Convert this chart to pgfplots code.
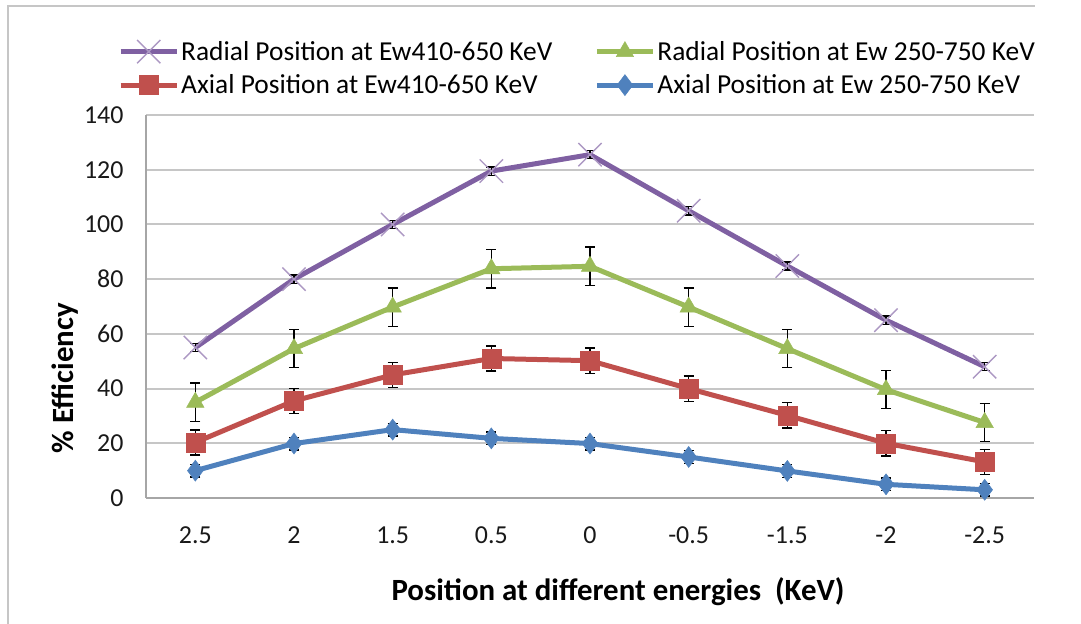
\documentclass[border=0pt]{standalone}
\usepackage{fontspec}
\setmainfont{Carlito}
\usepackage{pgfplots}
\pgfplotsset{compat=1.18}
\definecolor{cpurple}{HTML}{7F60A2}
\definecolor{cgreen}{HTML}{9BBB59}
\definecolor{cred}{HTML}{C0504D}
\definecolor{cblue}{HTML}{4F81BD}
\begin{document}
\begin{tikzpicture}[x=1bp,y=1bp]
\path[use as bounding box] (0,0) rectangle (1081,-624);
\draw[gray!45, line width=2bp] (8,-624) -- (8,-6) -- (1035,-6);
\begin{axis}[
  at={(146bp,-498bp)}, anchor=south west,
  width=888bp, height=383bp, scale only axis,
  xmin=-0.5, xmax=8.5, ymin=0, ymax=140,
  xtick={0,1,2,3,4,5,6,7,8},
  xticklabels={2.5,2,1.5,0.5,0,-0.5,-1.5,-2,-2.5},
  ytick={0,20,40,60,80,100,120,140},
  axis lines=left,
  axis line style={-, draw=gray!70, line width=1.5bp},
  ymajorgrids, grid style={gray!45, line width=2bp},
  major tick length=0pt,
  /pgf/number format/assume math mode=true,
  tick label style={font=\fontsize{26}{26}\selectfont, text=black!90},
  yticklabel style={xshift=-19bp},
  xticklabel style={yshift=-25bp},
  xlabel={Position at different energies\ \ (KeV)},
  ylabel={\% Efficiency},
  xlabel style={font=\bfseries\fontsize{31}{31}\selectfont, at={(axis description cs:0.5315,-0.245)}, anchor=center},
  ylabel style={font=\bfseries\fontsize{31}{31}\selectfont, at={(axis description cs:-0.0912,0.313)}, anchor=center},
  legend columns=2,
  legend cell align=left,
  legend style={draw=none, fill=none, at={(axis description cs:-0.0315,1.198)}, anchor=north west,
    font=\fontsize{27.5}{27.5}\selectfont, inner sep=0pt, row sep=9bp,
    /tikz/every even column/.append style={column sep=40bp}},
  legend image code/.code={\draw[mark repeat=2,mark phase=2] plot coordinates {(0bp,0bp) (28bp,0bp) (56bp,0bp)};},
  error bars/error bar style={black, line width=1.3bp, solid},
  error bars/error mark options={black, rotate=90, mark size=5bp, line width=1.3bp, solid},
]
\addplot[cpurple, line width=5bp, mark=x, mark size=16.5bp, mark options={line width=1.4bp, draw=cpurple!65},
  error bars/.cd, y dir=both, y fixed=1.5]
  coordinates {(0,55) (1,80) (2,100) (3,119.5) (4,125.5) (5,105) (6,84.8) (7,65) (8,48)};
\addlegendentry{Radial Position at Ew410-650 KeV}
\addplot[cgreen, line width=5bp, mark=triangle*, mark size=10bp, mark options={line width=0.5bp},
  error bars/.cd, y dir=both, y fixed=7]
  coordinates {(0,35) (1,54.6) (2,69.8) (3,83.8) (4,84.7) (5,69.8) (6,54.6) (7,39.6) (8,27.6)};
\addlegendentry{Radial Position at Ew 250-750 KeV}
\addplot[cred, line width=5bp, mark=square*, mark size=9.5bp, mark options={line width=0.5bp},
  error bars/.cd, y dir=both, y fixed=4.6]
  coordinates {(0,20.3) (1,35.5) (2,45) (3,51) (4,50.2) (5,40) (6,30.2) (7,20) (8,13.2)};
\addlegendentry{Axial Position at Ew410-650 KeV}
\addplot[cblue, line width=5bp, mark=diamond*, mark size=10.5bp, mark options={line width=0.5bp},
  error bars/.cd, y dir=both, y fixed=2.3]
  coordinates {(0,10) (1,19.9) (2,25) (3,21.8) (4,19.9) (5,15) (6,9.9) (7,5) (8,3)};
\addlegendentry{Axial Position at Ew 250-750 KeV}
\end{axis}
\end{tikzpicture}
\end{document}
